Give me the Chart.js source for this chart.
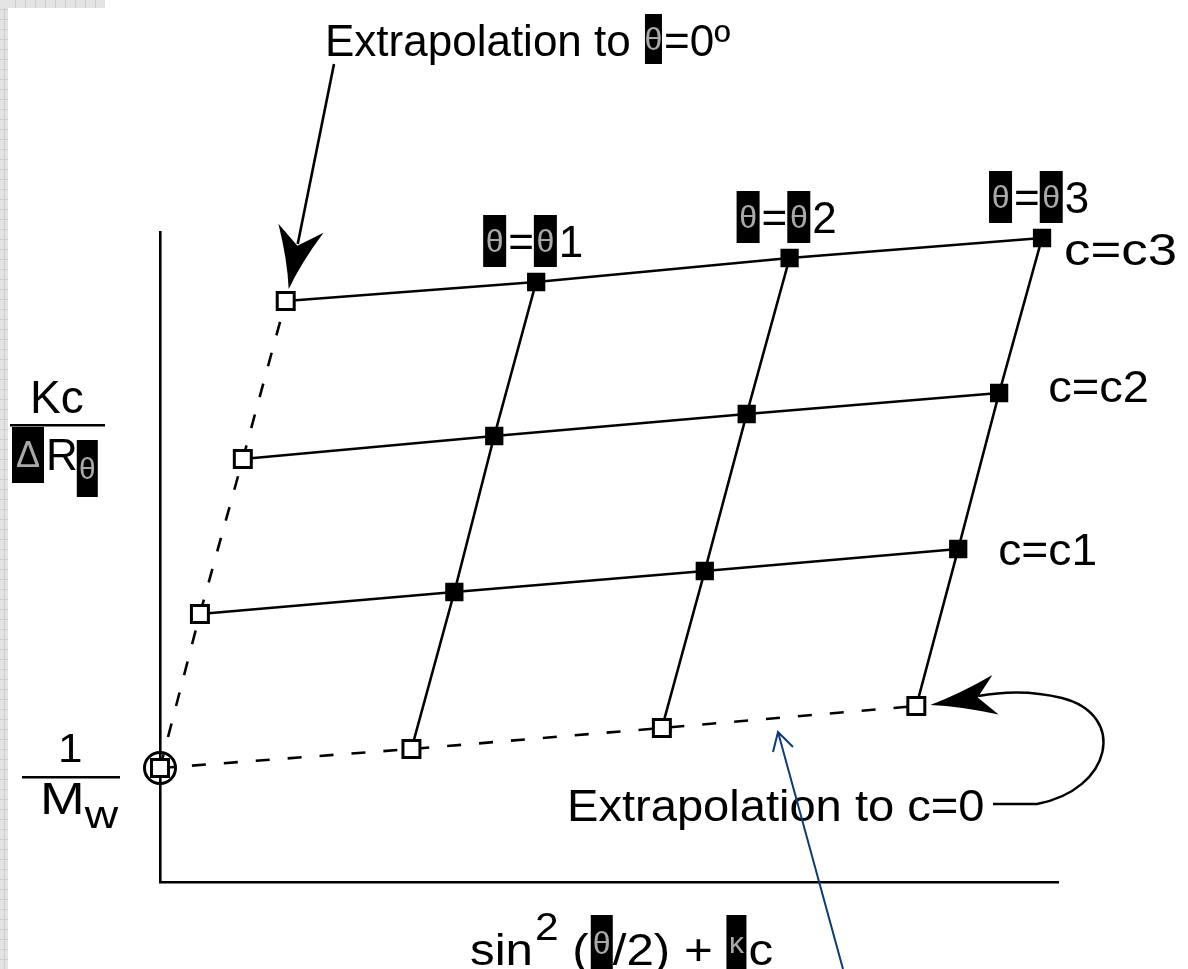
<!DOCTYPE html>
<html>
<head>
<meta charset="utf-8">
<script src="https://cdn.jsdelivr.net/npm/chart.js@4.4.1/dist/chart.umd.min.js"></script>
<style>
  html, body { margin: 0; padding: 0; background: #fff; }
  #wrap { width: 1188px; height: 969px; position: relative; }
</style>
</head>
<body>
<div id="wrap"><canvas id="zimm"></canvas></div>
<script>
// Zimm plot: Kc/ΔRθ against sin²(θ/2) + kc, one row per concentration,
// one column per scattering angle.
const concLabels = ['c=0', 'c=c1', 'c=c2', 'c=c3'];
const angleLabels = ['θ=0', 'θ=θ1', 'θ=θ2', 'θ=θ3'];

// x = sin²(θ/2) + kc and y = Kc/ΔRθ for each row, ordered θ=0, θ1, θ2, θ3
const xRowC0 = [0.00, 2.52, 5.03, 7.58];
const yRowC0 = [1.14, 1.33, 1.54, 1.76];
const xRowC1 = [0.40, 2.95, 5.46, 8.00];
const yRowC1 = [2.68, 2.90, 3.11, 3.33];
const xRowC2 = [0.83, 3.35, 5.88, 8.41];
const yRowC2 = [4.23, 4.46, 4.68, 4.89];
const xRowC3 = [1.26, 3.77, 6.31, 8.84];
const yRowC3 = [5.81, 6.00, 6.24, 6.44];

const xRange = [0, 9];
const yRange = [0, 6.5];

const FAMILY = '"Liberation Sans", Arial, sans-serif';

const rows = [
  xRowC0.map((x, i) => ({ x, y: yRowC0[i] })),
  xRowC1.map((x, i) => ({ x, y: yRowC1[i] })),
  xRowC2.map((x, i) => ({ x, y: yRowC2[i] })),
  xRowC3.map((x, i) => ({ x, y: yRowC3[i] }))
];
const columns = angleLabels.map((_, j) => rows.map(r => r[j]));

const DASH = [14, 18];

const datasets = [];
// constant-angle lines (θ=0 is the extrapolated, dashed one)
columns.forEach((pts, j) => {
  datasets.push({
    label: angleLabels[j],
    data: pts,
    showLine: true,
    borderColor: '#000',
    borderWidth: 2.6,
    borderDash: j === 0 ? DASH : [],
    pointRadius: 0,
    fill: false,
    tension: 0,
    clip: false,
    order: 2
  });
});
// constant-concentration lines with their markers (open = extrapolated)
rows.forEach((pts, i) => {
  const open = pts.map((_, j) => i === 0 || j === 0);
  datasets.push({
    label: concLabels[i],
    data: pts,
    showLine: true,
    borderColor: '#000',
    borderWidth: 2.6,
    borderDash: i === 0 ? DASH : [],
    pointStyle: 'rect',
    pointRadius: open.map(o => o ? 12 : 11.5),
    pointBorderWidth: open.map(o => o ? 3 : 2),
    pointBorderColor: '#000',
    pointBackgroundColor: open.map(o => o ? '#fff' : '#000'),
    fill: false,
    tension: 0,
    clip: false,
    order: 1
  });
});
// ring around the double-extrapolated intercept 1/Mw
datasets.push({
  label: '1/Mw',
  data: [rows[0][0]],
  showLine: false,
  pointStyle: 'circle',
  pointRadius: 15.5,
  pointBorderWidth: 3,
  pointBorderColor: '#000',
  pointBackgroundColor: 'rgba(0,0,0,0)',
  clip: false,
  order: 0
});

// text run made of plain strings, boxed symbols and superscripts;
// sx widens the plain glyphs horizontally
function drawRun(ctx, x, base, parts, size, sx = 1) {
  ctx.save();
  ctx.textBaseline = 'alphabetic';
  ctx.textAlign = 'left';
  const put = (txt, fs, y) => {
    ctx.font = `${fs}px ${FAMILY}`;
    ctx.fillStyle = '#000';
    ctx.save();
    ctx.translate(x, y);
    ctx.scale(sx, 1);
    ctx.fillText(txt, 0, 0);
    ctx.restore();
    x += ctx.measureText(txt).width * sx;
  };
  for (const p of parts) {
    if (typeof p === 'string') {
      put(p, size, base);
    } else if (p.box) {
      const w = p.w || 21, up = p.up || 44, down = p.down || 11, dy = p.dy || 0;
      x += p.pre || 0;
      ctx.fillStyle = '#000';
      ctx.fillRect(x, base - up + dy, w, up + down);
      ctx.font = `${p.gs || 32}px ${FAMILY}`;
      ctx.fillStyle = '#a9a9a9';
      ctx.textAlign = 'center';
      ctx.textBaseline = 'middle';
      ctx.fillText(p.box, x + w / 2, base + dy + (down - up) / 2 + 2);
      ctx.textAlign = 'left';
      ctx.textBaseline = 'alphabetic';
      x += w + (p.gap || 0);
    } else if (p.sup) {
      x += p.pre || 0;
      put(p.sup, p.size, base + p.dy);
    }
  }
  ctx.restore();
  return x;
}

// arrowhead with a swept-back notch, pointing from (fx,fy) to the tip
function stealthHead(ctx, tx, ty, fx, fy, len, half, notch) {
  const a = Math.atan2(ty - fy, tx - fx);
  const ux = Math.cos(a), uy = Math.sin(a);
  const px = -uy, py = ux;
  const bx = tx - ux * len, by = ty - uy * len;
  const nx = tx - ux * notch, ny = ty - uy * notch;
  const cx = tx - ux * len * 0.45, cy = ty - uy * len * 0.45;
  ctx.beginPath();
  ctx.moveTo(tx, ty);
  ctx.quadraticCurveTo(cx + px * half * 0.3, cy + py * half * 0.3, bx + px * half, by + py * half);
  ctx.lineTo(nx, ny);
  ctx.lineTo(bx - px * half, by - py * half);
  ctx.quadraticCurveTo(cx - px * half * 0.3, cy - py * half * 0.3, tx, ty);
  ctx.closePath();
  ctx.fill();
}

const annotations = {
  id: 'annotations',
  beforeDraw(chart) {
    const ctx = chart.ctx;
    // faint grid strip along the page edge
    ctx.save();
    ctx.fillStyle = '#e4e4e4';
    ctx.fillRect(0, 0, 8, chart.height);
    ctx.fillRect(0, 0, 105, 8);
    ctx.strokeStyle = '#cdcdcd';
    ctx.lineWidth = 1;
    ctx.beginPath();
    for (let y = 9.5; y < chart.height; y += 10) { ctx.moveTo(0, y); ctx.lineTo(8, y); }
    for (let x = 15.5; x < 105; x += 10) { ctx.moveTo(x, 0); ctx.lineTo(x, 8); }
    ctx.moveTo(4.5, 8); ctx.lineTo(4.5, chart.height);
    ctx.stroke();
    ctx.restore();
  },
  afterDraw(chart) {
    const ctx = chart.ctx;
    const sx = chart.scales.x, sy = chart.scales.y;
    const px = p => [sx.getPixelForValue(p.x), sy.getPixelForValue(p.y)];
    const S = 44;

    ctx.save();
    ctx.fillStyle = '#000';
    ctx.strokeStyle = '#000';

    // angle labels above the top row
    [1, 2, 3].forEach(j => {
      const [x, y] = px(rows[3][j]);
      drawRun(ctx, x - 53, y - 25, [{ box: 'θ', w: 23, up: 42, down: 10, gap: 2 }, '=', { box: 'θ', w: 23, up: 42, down: 10, gap: 2 }, String(j)], S);
    });

    // concentration labels at the right end of each row
    const cPlace = [null, [40, 16, 1.05], [49, 9, 1.07], [22, 27, 1.2]];
    [1, 2, 3].forEach(i => {
      const [x, y] = px(rows[i][3]);
      drawRun(ctx, x + cPlace[i][0], y + cPlace[i][1], [concLabels[i]], S, cPlace[i][2]);
    });

    // title with arrow onto the θ=0 line
    drawRun(ctx, 325, 56, ['Extrapolation to ', { box: 'θ', w: 17, up: 42, down: 8, gap: 2, pre: 2 }, '=0º'], S);
    const [tx0, ty0] = px(rows[3][0]);
    const tip = [tx0 + 3, ty0 - 12];
    ctx.lineWidth = 2.6;
    ctx.beginPath();
    ctx.moveTo(334, 64);
    ctx.lineTo(tip[0] + 9, tip[1] - 45);
    ctx.stroke();
    stealthHead(ctx, tip[0], tip[1], 334, 64, 62, 23, 44);

    // extrapolation to c=0, with curved arrow back onto the c=0 line
    drawRun(ctx, 567, 821, ['Extrapolation to c=0'], S, 1.07);
    const [tx3, ty3] = px(rows[0][3]);
    const t2 = [tx3 + 14, ty3 - 1];
    ctx.lineWidth = 2.4;
    ctx.beginPath();
    ctx.moveTo(993, 804);
    ctx.lineTo(1037, 804);
    ctx.bezierCurveTo(1112, 790, 1128, 715, 1062, 698);
    ctx.bezierCurveTo(1030, 690, 1000, 692, t2[0] + 48, t2[1] - 9);
    ctx.stroke();
    stealthHead(ctx, t2[0], t2[1], t2[0] + 64, t2[1] - 10, 66, 20, 48);

    // y axis title Kc / ΔRθ
    drawRun(ctx, 30, 413, ['Kc'], 46);
    ctx.fillRect(10, 424, 95, 2.5);
    drawRun(ctx, 12, 470, [{ box: 'Δ', w: 32, up: 43, down: 13, gs: 36, gap: 2 }, 'R', { box: 'θ', w: 21, up: 30, down: 27, gs: 30, pre: -1 }], S);

    // intercept label 1 / Mw
    drawRun(ctx, 58, 762, ['1'], 40, 1.1);
    ctx.fillRect(22, 776, 98, 2.5);
    drawRun(ctx, 40, 814, ['M', { sup: 'w', size: 38, dy: 14 }], 44, 1.22);

    // x axis title sin²(θ/2) + kc
    drawRun(ctx, 470, 965, ['sin', { sup: '2', size: 38, dy: -25, pre: 2 }, ' (', { box: 'θ', w: 22, up: 50, down: 6, gs: 32, pre: 2 }, '/2) + ', { box: 'κ', w: 20, up: 50, down: 6, gs: 30, gap: 2 }, 'c'], S, 1.12);

    // thin pointer onto the c=0 line
    ctx.strokeStyle = '#0d3b73';
    ctx.lineWidth = 2;
    ctx.beginPath();
    ctx.moveTo(843, 969);
    ctx.lineTo(778, 732);
    ctx.moveTo(773, 752);
    ctx.lineTo(778, 732);
    ctx.lineTo(793, 747);
    ctx.stroke();
    ctx.restore();
  }
};

const hideScale = s => { if (s.axis === 'x') s.height = 0; else s.width = 0; };

new Chart(document.getElementById('zimm'), {
  type: 'scatter',
  data: { datasets },
  options: {
    responsive: true,
    maintainAspectRatio: false,
    animation: false,
    events: [],
    layout: { padding: { left: 160, right: 130, top: 232, bottom: 87 } },
    plugins: { legend: { display: false }, tooltip: { enabled: false } },
    scales: {
      x: {
        type: 'linear', min: xRange[0], max: xRange[1],
        ticks: { display: false },
        grid: { display: false, drawTicks: false },
        border: { display: true, color: '#000', width: 2.6 },
        afterFit: hideScale
      },
      y: {
        type: 'linear', min: yRange[0], max: yRange[1],
        ticks: { display: false },
        grid: { display: false, drawTicks: false },
        border: { display: true, color: '#000', width: 2.6 },
        afterFit: hideScale
      }
    }
  },
  plugins: [annotations]
});
</script>
</body>
</html>
